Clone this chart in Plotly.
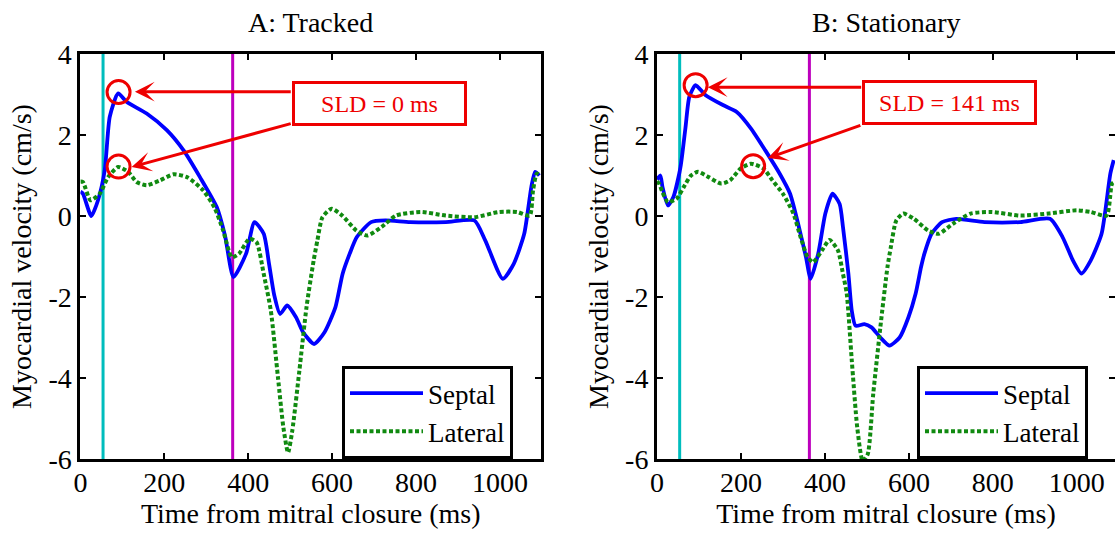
import plotly.graph_objects as go

# ---------------- data ----------------
# Panel A: Tracked
tracked_septal_t = [0, 6, 26, 42, 58, 70, 90, 110, 158, 206, 246, 285, 325, 345, 365, 395, 415, 437,
                    450, 462, 476, 493, 514, 531, 557, 582, 608, 625, 642, 659, 693, 727, 786, 871,
                    939, 965, 1007, 1033, 1058, 1075, 1084, 1094]
tracked_septal_v = [0.6, 0.55, 0.0, 0.39, 1.13, 2.45, 3.03, 2.82, 2.53, 2.12, 1.62, 0.96, 0.22, -0.5,
                    -1.51, -0.93, -0.15, -0.44, -1.2, -1.95, -2.42, -2.21, -2.5, -2.87, -3.16, -2.87,
                    -2.25, -1.43, -0.93, -0.52, -0.15, -0.11, -0.15, -0.15, -0.11, -0.6, -1.55, -1.18,
                    -0.44, 0.72, 1.09, 1.0]

tracked_lateral_t = [0, 6, 24, 46, 66, 90, 114, 134, 158, 190, 222, 254, 293, 320, 340, 361, 378, 403,
                     420, 437, 454, 471, 484, 495, 505, 522, 539, 556, 565, 577, 599, 624, 658, 684,
                     718, 752, 811, 871, 939, 998, 1041, 1071, 1079, 1088, 1097]
tracked_lateral_v = [0.85, 0.84, 0.39, 0.55, 0.96, 1.21, 1.09, 0.84, 0.76, 0.88, 1.03, 0.96, 0.63, 0.2,
                     -0.35, -1.02, -0.93, -0.56, -0.65, -1.43, -2.34, -3.99, -5.23, -5.84, -5.31,
                     -3.82, -2.25, -1.1, -0.6, -0.03, 0.18, 0.01, -0.36, -0.48, -0.27, 0.01, 0.1,
                     0.01, -0.03, 0.1, 0.1, 0.01, 0.63, 1.05, 1.0]

# Panel B: Stationary
stat_septal_t = [0, 8, 13, 26, 39, 56, 68, 77, 92, 115, 157, 190, 224, 258, 292, 317, 338, 355, 366,
                 384, 401, 418, 435, 443, 456, 464, 473, 494, 511, 532, 554, 578, 599, 616, 629, 637,
                 654, 679, 713, 780, 865, 936, 966, 991, 1011, 1033, 1059, 1080, 1088]
stat_septal_v = [0.9, 1.0, 0.72, 0.26, 0.47, 1.21, 2.2, 2.94, 3.23, 2.99, 2.74, 2.57, 2.16, 1.62, 1.05,
                 0.55, -0.27, -1.02, -1.55, -0.93, 0.06, 0.55, 0.3, -0.27, -1.43, -2.34, -2.71, -2.67,
                 -2.75, -3.0, -3.2, -3.0, -2.5, -1.92, -1.26, -0.93, -0.44, -0.15, -0.07, -0.15, -0.15,
                 -0.07, -0.52, -1.1, -1.42, -1.1, -0.44, 1.05, 1.38]

stat_lateral_t = [0, 5, 13, 26, 47, 64, 81, 98, 123, 153, 174, 199, 224, 254, 275, 300, 325, 342, 359,
                  372, 393, 411, 431, 443, 452, 464, 477, 490, 502, 515, 532, 549, 557, 570, 587, 612,
                  646, 671, 705, 747, 797, 865, 932, 1000, 1033, 1071, 1084, 1092]
stat_lateral_v = [0.85, 0.8, 0.59, 0.34, 0.43, 0.72, 1.0, 1.09, 0.96, 0.8, 0.88, 1.17, 1.29, 1.17, 0.88,
                  0.55, 0.06, -0.52, -1.02, -1.14, -0.85, -0.59, -0.85, -1.43, -1.92, -3.57, -5.22,
                  -6.05, -5.88, -4.4, -2.75, -1.26, -0.77, -0.11, 0.06, -0.07, -0.36, -0.44, -0.19,
                  0.06, 0.1, 0.01, 0.06, 0.14, 0.1, 0.01, 0.8, 0.85]

event_times = [54, 363]            # cyan / magenta markers (ms)
panel_titles = ["A: Tracked", "B: Stationary"]
sld_labels = ["SLD = 0 ms", "SLD = 141 ms"]
# peaks highlighted with circles
peak_septal = [(91, 3.06), (92, 3.23)]
peak_lateral = [(91, 1.22), (229, 1.23)]
# annotation box centre and arrow tails/tips (data coords)
box_center = [(714, 2.77), (696, 2.8)]
arrow1 = [((505, 3.07), (130, 3.07)), ((490, 3.18), (121, 3.18))]
arrow2 = [((505, 2.29), (122, 1.21)), ((488, 2.25), (264, 1.43))]

x_ticks = [0, 200, 400, 600, 800, 1000]
x_tick_labels = ["0", "200", "400", "600", "800", "1000"]
y_ticks = [-6, -4, -2, 0, 2, 4]
y_tick_labels = ["-6", "-4", "-2", "0", "2", "4"]

# ---------------- figure ----------------
W, H = 1115, 533
FONT = "Liberation Serif, Times New Roman, serif"
BLUE, GREEN = "#0000ff", "#108a10"
CYAN, MAGENTA, RED = "#00bdbd", "#bd00bd", "#ee0000"

fig = go.Figure()

panels = [
    (tracked_septal_t, tracked_septal_v, tracked_lateral_t, tracked_lateral_v),
    (stat_septal_t, stat_septal_v, stat_lateral_t, stat_lateral_v),
]
xdomains = [[80.4 / W, 541 / W], [657 / W, 1.0]]
xranges = [[0, 1098], [0, 1091]]
ydomain = [(H - 459) / H, (H - 54) / H]
legend_x = [342 / W, 917 / W]

for i, (st, sv, lt, lv) in enumerate(panels):
    xa = "x" if i == 0 else "x2"
    ya = "y" if i == 0 else "y2"
    lg = "legend" if i == 0 else "legend2"
    fig.add_trace(go.Scatter(x=st, y=sv, mode="lines", name="Septal", xaxis=xa, yaxis=ya, legend=lg,
                             line=dict(color=BLUE, width=3.8, shape="spline", smoothing=0.6)))
    fig.add_trace(go.Scatter(x=lt, y=lv, mode="lines", name="Lateral", xaxis=xa, yaxis=ya, legend=lg,
                             line=dict(color=GREEN, width=4, dash="4px,2.5px", shape="spline",
                                       smoothing=0.6)))

axis_common = dict(showline=True, linecolor="black", linewidth=3, mirror="ticks", ticks="inside",
                   ticklen=6, tickwidth=2, tickcolor="black", showgrid=False, zeroline=False,
                   tickfont=dict(family=FONT, size=28, color="black"))

layout = dict(
    width=W, height=H, margin=dict(l=0, r=0, t=0, b=0),
    paper_bgcolor="white", plot_bgcolor="white",
    font=dict(family=FONT, size=28, color="black"),
)
for i in range(2):
    sfx = "" if i == 0 else "2"
    layout["xaxis" + sfx] = dict(domain=xdomains[i], range=xranges[i], tickvals=x_ticks,
                                 ticktext=x_tick_labels, ticklabelstandoff=-4,
                                 anchor="y" + sfx, automargin=False,
                                 title=dict(text="Time from mitral closure (ms)",
                                            font=dict(family=FONT, size=28), standoff=0),
                                 **axis_common)
    layout["yaxis" + sfx] = dict(domain=ydomain, range=[-6, 4], tickvals=y_ticks,
                                 ticktext=y_tick_labels,
                                 anchor="x" + sfx, automargin=False,
                                 title=dict(text="Myocardial velocity (cm/s)",
                                            font=dict(family=FONT, size=28), standoff=9),
                                 **axis_common)
    layout["legend" + sfx] = dict(
        x=legend_x[i], y=(H - 366) / H, xanchor="left", yanchor="top",
        bgcolor="white", bordercolor="black", borderwidth=3,
        font=dict(family=FONT, size=27, color="black"), itemwidth=73, tracegroupgap=0)
fig.update_layout(**layout)

# vertical event lines
for i in range(2):
    xa = "x" if i == 0 else "x2"
    ya = "y" if i == 0 else "y2"
    for t, c in zip(event_times, [CYAN, MAGENTA]):
        fig.add_shape(type="line", xref=xa, yref=ya + " domain", x0=t, x1=t, y0=0, y1=1,
                      line=dict(color=c, width=3), layer="below")

annotations = []
for i in range(2):
    xa = "x" if i == 0 else "x2"
    ya = "y" if i == 0 else "y2"
    cx = (xdomains[i][0] + xdomains[i][1]) / 2 if i == 0 else (657 + 1115) / 2 / W
    annotations.append(dict(text=panel_titles[i], xref="paper", yref="paper", x=cx,
                            y=(H - 23) / H, xanchor="center", yanchor="middle", showarrow=False,
                            font=dict(family=FONT, size=28, color="black")))
    for (pt, pv) in (peak_septal[i], peak_lateral[i]):
        fig.add_shape(type="circle", xref=xa, yref=ya, xsizemode="pixel", ysizemode="pixel",
                      xanchor=pt, yanchor=pv, x0=-11.5, x1=11.5, y0=-11.5, y1=11.5,
                      line=dict(color=RED, width=3))
    for (tail, tip) in (arrow1[i], arrow2[i]):
        annotations.append(dict(text="", x=tip[0], y=tip[1], ax=tail[0], ay=tail[1],
                                xref=xa, yref=ya, axref=xa, ayref=ya, showarrow=True,
                                arrowhead=3, arrowsize=1.1, arrowwidth=3, arrowcolor=RED,
                                standoff=0, startstandoff=0))
    annotations.append(dict(text=sld_labels[i], x=box_center[i][0], y=box_center[i][1],
                            xref=xa, yref=ya, showarrow=False, width=169, height=39,
                            borderpad=0, bordercolor=RED, borderwidth=3, bgcolor="white",
                            font=dict(family=FONT, size=24, color=RED)))
fig.update_layout(annotations=annotations)

fig.write_html("out.html", config={"displayModeBar": False},
               post_script="document.body.style.margin='0';document.body.style.overflow='hidden';")
